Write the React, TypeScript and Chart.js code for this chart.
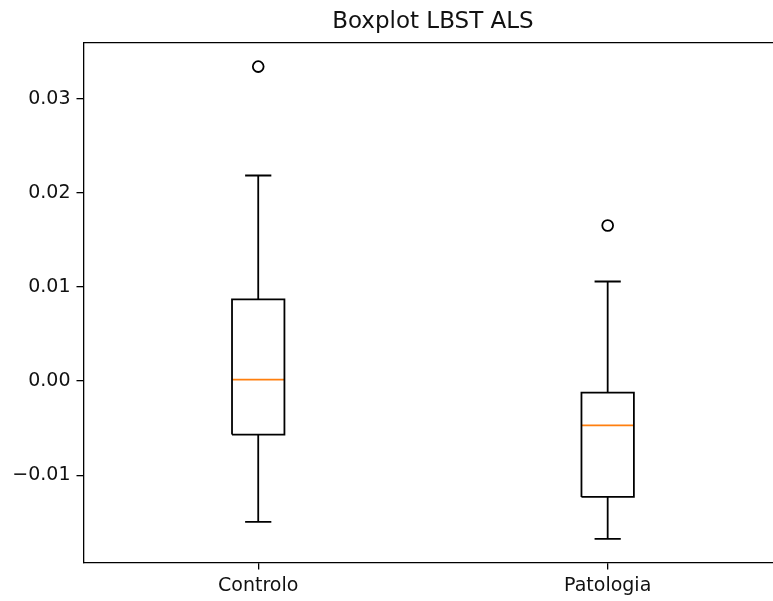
import React, { useEffect, useRef } from "react";
import { Chart, registerables } from "chart.js";

Chart.register(...registerables);

const categories = ["Controlo", "Patologia"];
const whiskerLow = [-0.01497, -0.01677];
const q1 = [-0.00569, -0.01231];
const median = [0.00015, -0.0047];
const q3 = [0.00867, -0.00123];
const whiskerHigh = [0.02184, 0.01058];
const outliers = [[0.03341], [0.01653]];
const yTicks = [-0.01, 0.0, 0.01, 0.02, 0.03];

const BOX_W = 0.15;
const LINE_W = 1.8;
const SPINE_W = 1.3;
const FONT = "'DejaVu Sans', sans-serif";
const CANVAS_W = 1000;
const AREA_RIGHT = 782.4;

export default function App() {
  const ref = useRef<HTMLCanvasElement | null>(null);

  useEffect(() => {
    if (!ref.current) return;
    const datasets: any[] = [];
    const seg = (pts: { x: number; y: number }[], color = "#000") => ({
      type: "scatter",
      data: pts,
      showLine: true,
      borderColor: color,
      borderWidth: LINE_W,
      pointRadius: 0,
      fill: false,
      borderJoinStyle: "miter",
      borderCapStyle: "butt",
    });

    categories.forEach((_, i) => {
      const p = i + 1;
      const h = BOX_W / 2;
      const c = BOX_W / 4;
      datasets.push(
        seg([
          { x: p - h, y: q1[i] },
          { x: p + h, y: q1[i] },
          { x: p + h, y: q3[i] },
          { x: p - h, y: q3[i] },
          { x: p - h, y: q1[i] },
        ])
      );
      datasets.push(seg([{ x: p, y: q1[i] }, { x: p, y: whiskerLow[i] }]));
      datasets.push(seg([{ x: p, y: q3[i] }, { x: p, y: whiskerHigh[i] }]));
      datasets.push(seg([{ x: p - c, y: whiskerLow[i] }, { x: p + c, y: whiskerLow[i] }]));
      datasets.push(seg([{ x: p - c, y: whiskerHigh[i] }, { x: p + c, y: whiskerHigh[i] }]));
      datasets.push(seg([{ x: p - h, y: median[i] }, { x: p + h, y: median[i] }], "#ff7f0e"));
      datasets.push({
        type: "scatter",
        data: outliers[i].map((v) => ({ x: p, y: v })),
        showLine: false,
        pointRadius: 5.4,
        pointStyle: "circle",
        borderColor: "#000",
        backgroundColor: "rgba(0,0,0,0)",
        borderWidth: LINE_W,
      });
    });

    const allVals = [...whiskerLow, ...whiskerHigh, ...outliers.flat()];
    const dMin = Math.min(...allVals);
    const dMax = Math.max(...allVals);
    const margin = (dMax - dMin) * 0.05;

    const chart = new Chart(ref.current, {
      type: "scatter",
      data: { datasets },
      options: {
        animation: false,
        responsive: false,
        devicePixelRatio: 1,
        layout: { padding: { left: 0, right: CANVAS_W - AREA_RIGHT, top: 0, bottom: 0 } },
        plugins: {
          legend: { display: false },
          tooltip: { enabled: false },
          title: {
            display: true,
            text: "Boxplot LBST ALS",
            color: "#111",
            fullSize: false,
            font: { family: FONT, size: 23, weight: "normal" },
            padding: { top: 8.6, bottom: 6.8 },
          },
        },
        scales: {
          x: {
            type: "linear",
            position: "bottom",
            min: 0.5,
            max: 2.5,
            afterBuildTicks: (scale: any) => {
              scale.ticks = categories.map((_, i) => ({ value: i + 1 }));
            },
            afterFit: (scale: any) => {
              scale.height = 38.5;
            },
            ticks: {
              color: "#111",
              font: { family: FONT, size: 19 },
              padding: 5,
              maxRotation: 0,
              autoSkip: false,
              callback: (v: any) => categories[Number(v) - 1] ?? "",
            },
            grid: {
              display: true,
              drawOnChartArea: false,
              drawTicks: true,
              tickLength: 7,
              color: "#000",
              lineWidth: SPINE_W,
            },
            border: { display: true, color: "#000", width: SPINE_W },
          },
          xTop: {
            type: "linear",
            position: "top",
            min: 0.5,
            max: 2.5,
            afterBuildTicks: (scale: any) => {
              scale.ticks = [];
            },
            afterFit: (scale: any) => {
              scale.height = 0;
            },
            ticks: { display: false },
            grid: { display: false },
            border: { display: true, color: "#000", width: SPINE_W },
          },
          y: {
            type: "linear",
            position: "left",
            min: dMin - margin,
            max: dMax + margin,
            afterBuildTicks: (scale: any) => {
              scale.ticks = yTicks.map((v) => ({ value: v }));
            },
            afterFit: (scale: any) => {
              scale.width = 83.5;
            },
            ticks: {
              color: "#111",
              font: { family: FONT, size: 19 },
              padding: 6,
              callback: (v: any) => {
                const n = Number(v);
                const s = Math.abs(n).toFixed(2);
                return n < -1e-12 ? "\u2212" + s : s;
              },
            },
            grid: {
              display: true,
              drawOnChartArea: false,
              drawTicks: true,
              tickLength: 7,
              color: "#000",
              lineWidth: SPINE_W,
            },
            border: { display: true, color: "#000", width: SPINE_W },
          },
        },
      } as any,
    });
    return () => chart.destroy();
  }, []);

  return (
    <div
      style={{
        position: "fixed",
        left: 0,
        top: 0,
        width: 773,
        height: 601,
        overflow: "hidden",
        background: "#fff",
      }}
    >
      <canvas ref={ref} width={CANVAS_W} height={601} style={{ display: "block" }} />
    </div>
  );
}
